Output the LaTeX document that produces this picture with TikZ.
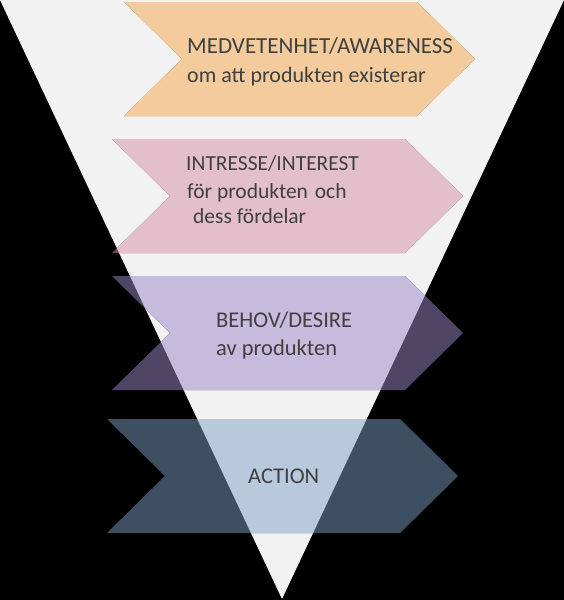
\documentclass[tikz,border=0pt]{standalone}
\usepackage{fontspec}
\setmainfont{Carlito}
\definecolor{bgblack}{RGB}{0,0,0}
\definecolor{funnel}{RGB}{242,242,242}
\definecolor{orL}{RGB}{244,203,156}
\definecolor{orD}{RGB}{124,85,40}
\definecolor{piL}{RGB}{226,191,202}
\definecolor{piD}{RGB}{106,72,84}
\definecolor{puL}{RGB}{197,187,220}
\definecolor{puD}{RGB}{78,70,100}
\definecolor{blL}{RGB}{185,201,220}
\definecolor{blD}{RGB}{62,79,98}
\definecolor{txt}{RGB}{64,64,64}
\newcommand{\mychev}[4]{%
  \fill[#3] (#1,#2) -- ++(293,0) -- ++(58,57) -- ++(-58,57) -- ++(-293,0) -- ++(58,-57) -- cycle;
  \begin{scope}
    \clip (0,0) -- (564,0) -- (282,599) -- cycle;
    \fill[#4] (#1,#2) -- ++(293,0) -- ++(58,57) -- ++(-58,57) -- ++(-293,0) -- ++(58,-57) -- cycle;
  \end{scope}}
\tikzset{
  lbl/.style={anchor=base west, inner sep=0pt, text=txt, font=\fontsize{22.5}{26}\selectfont},
  lblbig/.style={lbl, font=\fontsize{23}{26}\selectfont},
  lblsm/.style={lbl, font=\fontsize{21.5}{26}\selectfont}
}
\begin{document}
\begin{tikzpicture}[x=1pt,y=-1pt]
\useasboundingbox (0,0) rectangle (564,600);
\fill[bgblack] (0,0) rectangle (564,600);
\fill[funnel] (0,0) -- (564,0) -- (282,599) -- cycle;
\mychev{124}{2}{orD}{orL}
\mychev{112}{139}{piD}{piL}
\mychev{112}{276}{puD}{puL}
\mychev{107}{419}{blD}{blL}
\node[lblbig] (t1a) at (187,53) {MEDVETENHET/AWARENESS};
\node[lblsm, font=\fontsize{22}{26}\selectfont] (t1b) at (187,82) {om att produkten existerar};
\node[lblsm] (t2a) at (186,170) {INTRESSE/INTEREST};
\node[lblsm] (t2b) at (187,198) {för produkten\hspace{2pt} och};
\node[lblsm] (t2c) at (193,223) {dess fördelar};
\node[lbl] (t3a) at (216,327) {BEHOV/DESIRE};
\node[lbl] (t3b) at (216,355) {av produkten};
\node[lbl] (t4) at (248,483) {ACTION};
\end{tikzpicture}
\end{document}
